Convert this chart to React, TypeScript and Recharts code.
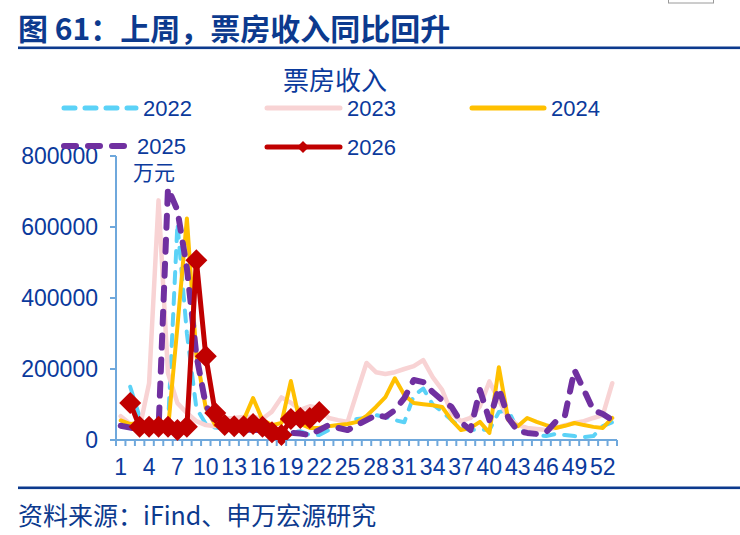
import React from 'react';
import { LineChart, Line, XAxis, YAxis } from 'recharts';

// ---- categories (week numbers) ----
const weeks = [
  1, 2, 3, 4, 5, 6, 7, 8, 9, 10, 11, 12, 13, 14, 15, 16, 17, 18, 19, 20,
  21, 22, 23, 24, 25, 26, 27, 28, 29, 30, 31, 32, 33, 34, 35, 36, 37, 38, 39, 40,
  41, 42, 43, 44, 45, 46, 47, 48, 49, 50, 51, 52, 53,
];
const xTickLabels = [1, 4, 7, 10, 13, 16, 19, 22, 25, 28, 31, 34, 37, 40, 43, 46, 49, 52];
const yTicks = [0, 200000, 400000, 600000, 800000];

// ---- series values (万元) ----
const s2022 = [
  null, 150000, 65000, 30000, 28000, 40000, 610000, 300000, 90000, 45000,
  35000, 32000, 30000, 30000, 28000, 28000, 25000, 18000, 22000, 25000,
  14000, 14000, 28000, 36000, 53000, 59000, 62000, 70000, 65000, 56000,
  50000, 125000, 145000, 100000, 80000, 56000, 34000, 28000, 30000, 28000,
  79000, 84000, 28000, 22000, 14000, 11000, 17000, 14000, 11000, 8000,
  11000, 39000, 50000,
];
const s2023 = [
  67000, 45000, 34000, 160000, 675000, 188000, 104000, 76000, 53000, 42000,
  39000, 60000, 62000, 65000, 65000, 60000, 80000, 120000, 105000, 85000,
  95000, 90000, 62000, 56000, 51000, 135000, 217000, 191000, 186000, 191000,
  200000, 208000, 225000, 177000, 141000, 76000, 53000, 62000, 95000, 165000,
  112000, 62000, 42000, 34000, 31000, 28000, 34000, 42000, 48000, 53000,
  62000, 70000, 160000,
];
const s2024 = [
  55000, 45000, 48000, 35000, 30000, 30000, 320000, 624000, 239000, 90000,
  42000, 36000, 42000, 56000, 118000, 56000, 42000, 48000, 166000, 45000,
  34000, 34000, 39000, 42000, 45000, 51000, 68000, 93000, 121000, 174000,
  127000, 104000, 101000, 98000, 93000, 56000, 28000, 34000, 51000, 20000,
  205000, 56000, 39000, 62000, 51000, 42000, 34000, 40000, 48000, 42000,
  37000, 34000, 62000,
];
const s2025 = [
  40000, 35000, 30000, 28000, 30000, 709000, 647000, 484000, 239000, 98000,
  51000, 34000, 30000, 30000, 28000, 28000, 25000, 22000, 20000, 18000,
  14000, 28000, 42000, 34000, 28000, 42000, 56000, 70000, 65000, 84000,
  118000, 169000, 163000, 135000, 112000, 93000, 50000, 28000, 141000, 56000,
  146000, 62000, 25000, 20000, 17000, 22000, 51000, 70000, 197000, 141000,
  84000, 73000, 56000,
];
const s2026 = [
  null, 104000, 37000, 37000, 37000, 37000, 28000, 37000, 506000, 236000,
  76000, 42000, 39000, 39000, 45000, 37000, 22000, 14000, 59000, 62000,
  62000, 79000,
];

const series = [
  { key: 'y2022', name: '2022', values: s2022, color: '#5BD2F7', width: 4, dash: '11 10' },
  { key: 'y2023', name: '2023', values: s2023, color: '#F8D3D4', width: 4.5, dash: undefined },
  { key: 'y2024', name: '2024', values: s2024, color: '#FFC000', width: 4, dash: undefined },
  { key: 'y2025', name: '2025', values: s2025, color: '#7030A0', width: 6, dash: '12 12' },
  { key: 'y2026', name: '2026', values: s2026, color: '#C00000', width: 5, dash: undefined },
];

const data = weeks.map((w, i) => {
  const row: any = { week: w };
  series.forEach((s) => {
    const v = (s.values as any[])[i];
    row[s.key] = v === undefined ? null : v;
  });
  return row;
});

const boundaries = [...weeks.map((w) => w - 0.5), weeks[weeks.length - 1] + 0.5];

const AXIS = '#6FA8DC';
const TEXT = '#0B3A9C';
const TITLE = '#0C3A8E';
const NUM_FONT = '"Liberation Sans", Arial, sans-serif';
const CJK_FONT = '"Noto Sans CJK SC", "Noto Sans", sans-serif';

const XTick = (props: any) => {
  const { x, y, payload } = props;
  const v = payload.value;
  if (!Number.isInteger(v)) {
    return <line x1={x} x2={x} y1={y - 6} y2={y} stroke={AXIS} strokeWidth={2} />;
  }
  return (
    <text x={x} y={y} dy={29} textAnchor="middle" fill={TEXT} fontSize={23} fontFamily={NUM_FONT}>
      {v}
    </text>
  );
};

const Diamond = (props: any) => {
  const { cx, cy, value, index } = props;
  if (value == null || cx == null || cy == null) return <g key={`d${index}`} />;
  const r = 11;
  return (
    <polygon
      key={`d${index}`}
      points={`${cx},${cy - r} ${cx + r},${cy} ${cx},${cy + r} ${cx - r},${cy}`}
      fill="#C00000"
    />
  );
};

const legendPos: Record<string, { x: number; y: number; len: number }> = {
  '2022': { x: 64, y: 108, len: 72 },
  '2023': { x: 267, y: 108, len: 73 },
  '2024': { x: 472, y: 108, len: 72 },
  '2025': { x: 64, y: 146, len: 66 },
  '2026': { x: 267, y: 147, len: 73 },
};

export default function App() {
  return (
    <div style={{ position: 'absolute', left: 0, top: 0, width: 740, height: 535, background: '#fff', overflow: 'hidden' }}>
      <div style={{ position: 'absolute', left: 0, top: 0 }}>
        <LineChart width={740} height={535} data={data} margin={{ top: 156, right: 123, bottom: 65, left: 0 }}>
          <XAxis
            dataKey="week"
            type="number"
            domain={[0.5, 53.5]}
            ticks={[...boundaries, ...xTickLabels]}
            interval={0}
            tickSize={6}
            tickMargin={0}
            tickLine={false}
            tick={<XTick />}
            axisLine={{ stroke: AXIS, strokeWidth: 2 }}
            height={30}
          />
          <YAxis
            type="number"
            domain={[0, 800000]}
            ticks={yTicks}
            interval={0}
            width={116}
            tickSize={6}
            tickMargin={12}
            axisLine={{ stroke: AXIS, strokeWidth: 2 }}
            tickLine={{ stroke: AXIS, strokeWidth: 2 }}
            tick={{ fill: TEXT, fontSize: 23, fontFamily: NUM_FONT }}
          />
          {series.map((s) => (
            <Line
              key={s.key}
              dataKey={s.key}
              type="linear"
              stroke={s.color}
              strokeWidth={s.width}
              strokeDasharray={s.dash}
              strokeLinecap="round"
              strokeLinejoin="round"
              dot={s.name === '2026' ? <Diamond /> : false}
              activeDot={false}
              isAnimationActive={false}
              connectNulls={false}
            />
          ))}
        </LineChart>
      </div>
      <svg width={740} height={535} style={{ position: 'absolute', left: 0, top: 0, pointerEvents: 'none' }}>
        <rect x={668.5} y={-6} width={45} height={9} fill="none" stroke="#9A9A9A" strokeWidth={1} />
        <text x={18} y={40} fill={TITLE} fontSize={30} fontWeight="bold" fontFamily={CJK_FONT}>
          图 61：上周，票房收入同比回升
        </text>
        <rect x={18} y={46.5} width={722} height={2.6} fill={TITLE} />
        <text x={335} y={90} textAnchor="middle" fill={TEXT} fontSize={26} fontFamily={CJK_FONT}>
          票房收入
        </text>
        {series.map((s) => {
          const p = legendPos[s.name];
          return (
            <g key={s.name}>
              <line
                x1={p.x}
                x2={p.x + p.len}
                y1={p.y}
                y2={p.y}
                stroke={s.color}
                strokeWidth={s.name === '2025' ? 6 : 5}
                strokeDasharray={s.dash}
                strokeLinecap="round"
              />
              {s.name === '2026' && (
                <polygon
                  points={`${p.x + 36},${p.y - 6} ${p.x + 42},${p.y} ${p.x + 36},${p.y + 6} ${p.x + 30},${p.y}`}
                  fill={s.color}
                />
              )}
              <text x={p.name === undefined ? p.x + p.len + 7 : p.x + p.len + 7} y={p.y + 8} fill={TEXT} fontSize={22} fontFamily={NUM_FONT}>
                {s.name}
              </text>
            </g>
          );
        })}
        <text x={133} y={180} fill={TEXT} fontSize={21} fontFamily={CJK_FONT}>
          万元
        </text>
        <rect x={18} y={486.5} width={722} height={2.6} fill={TITLE} />
        <text x={18} y={525} fill={TITLE} fontSize={25} fontFamily={CJK_FONT}>
          资料来源：iFind、申万宏源研究
        </text>
      </svg>
    </div>
  );
}
